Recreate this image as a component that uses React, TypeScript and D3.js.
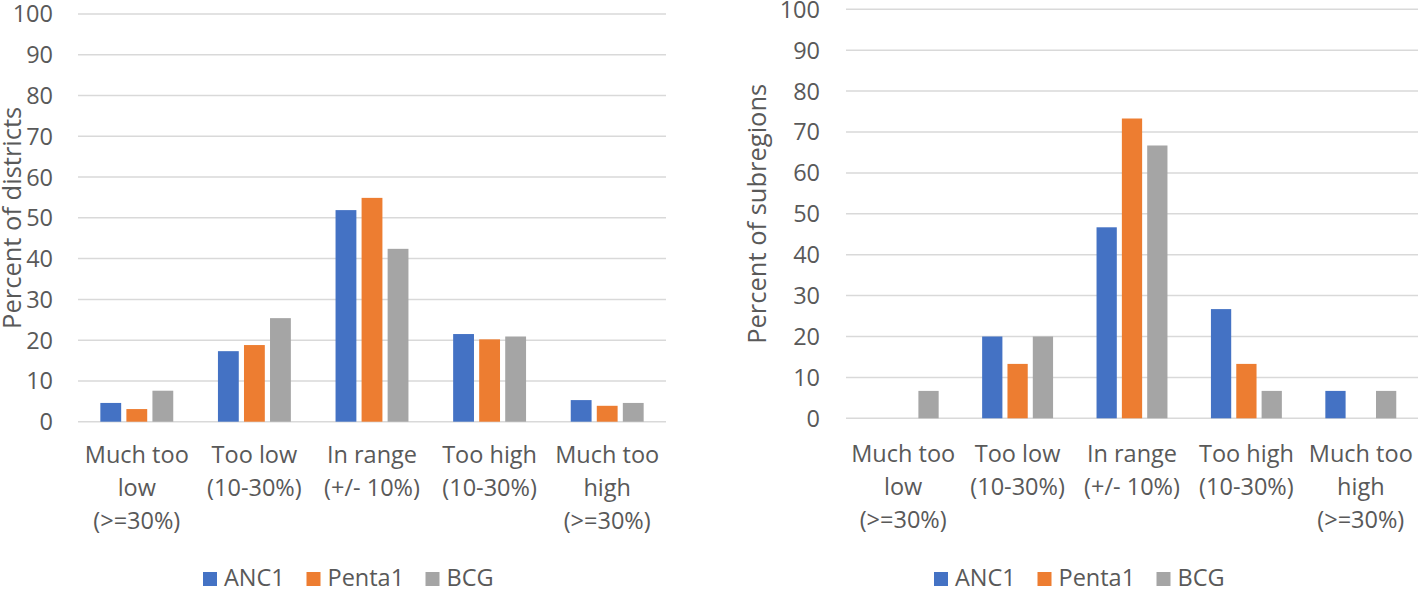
import React, { useLayoutEffect } from "react";
import * as d3 from "d3";

const categories = [
  ["Much too", "low", "(>=30%)"],
  ["Too low", "(10-30%)"],
  ["In range", "(+/- 10%)"],
  ["Too high", "(10-30%)"],
  ["Much too", "high", "(>=30%)"],
];
const seriesNames = ["ANC1", "Penta1", "BCG"];
const seriesColors = ["#4472C4", "#ED7D31", "#A5A5A5"];
const yTicks = [0, 10, 20, 30, 40, 50, 60, 70, 80, 90, 100];

// Left chart: percent of districts
const districtsANC1 = [4.6, 17.3, 51.9, 21.5, 5.3];
const districtsPenta1 = [3.1, 18.8, 54.9, 20.2, 3.9];
const districtsBCG = [7.6, 25.4, 42.4, 20.9, 4.6];

// Right chart: percent of subregions
const subregionsANC1 = [0, 20, 46.7, 26.7, 6.7];
const subregionsPenta1 = [0, 13.3, 73.3, 13.3, 0];
const subregionsBCG = [6.7, 20, 66.7, 6.7, 6.7];

const FONT = "'Open Sans', 'Noto Sans', sans-serif";
const TEXT = "#595959";
const GRID = "#d9d9d9";
const FS = 23.5;
const LEGEND_OFFSETS = [0, 103.5, 222.5];

type PanelProps = {
  x0: number;
  x1: number;
  y0: number;
  y1: number;
  tickX: number;
  titleX: number;
  title: string;
  labelY: number;
  legendX: number;
  data: number[][];
};

function Panel(p: PanelProps) {
  const y = d3.scaleLinear().domain([0, 100]).range([p.y0, p.y1]);
  const x = d3
    .scaleBand<number>()
    .domain(categories.map((_, i) => i))
    .range([p.x0, p.x1])
    .padding(0);
  const bw = x.bandwidth();
  const groupW = bw * 0.62;
  const xs = d3
    .scaleBand<number>()
    .domain(seriesNames.map((_, i) => i))
    .range([(bw - groupW) / 2, (bw + groupW) / 2])
    .paddingInner(0.2)
    .paddingOuter(0);

  return (
    <g>
      {yTicks.map((t) => (
        <g key={t}>
          <line x1={p.x0} x2={p.x1} y1={y(t)} y2={y(t)} stroke={GRID} strokeWidth={1.5} />
          <text
            x={p.tickX}
            y={y(t)}
            dy="0.36em"
            textAnchor="end"
            fontSize={FS}
            fill={TEXT}
            fontFamily={FONT}
          >
            {t}
          </text>
        </g>
      ))}
      {p.data.map((vals, si) =>
        vals.map((v, ci) =>
          v > 0 ? (
            <rect
              key={`${si}-${ci}`}
              x={(x(ci) as number) + (xs(si) as number)}
              y={y(v)}
              width={xs.bandwidth()}
              height={y(0) - y(v)}
              fill={seriesColors[si]}
            />
          ) : null
        )
      )}
      {categories.map((lines, ci) => (
        <text
          key={ci}
          x={(x(ci) as number) + bw / 2}
          y={p.labelY}
          textAnchor="middle"
          fontSize={FS}
          fill={TEXT}
          fontFamily={FONT}
        >
          {lines.map((l, li) => (
            <tspan key={li} x={(x(ci) as number) + bw / 2} dy={li === 0 ? 0 : 33}>
              {l}
            </tspan>
          ))}
        </text>
      ))}
      <text
        transform={`translate(${p.titleX},${(p.y0 + p.y1) / 2}) rotate(-90)`}
        textAnchor="middle"
        fontSize={25.5}
        fill={TEXT}
        fontFamily={FONT}
      >
        {p.title}
      </text>
      {seriesNames.map((n, i) => {
        const lx = p.legendX + LEGEND_OFFSETS[i];
        return (
          <g key={n}>
            <rect x={lx} y={572} width={14} height={14} fill={seriesColors[i]} />
            <text x={lx + 21} y={586} fontSize={FS} fill={TEXT} fontFamily={FONT}>
              {n}
            </text>
          </g>
        );
      })}
    </g>
  );
}

export default function App() {
  useLayoutEffect(() => {
    document.body.style.margin = "0";
  }, []);
  return (
    <svg width={1418} height={589} style={{ display: "block", background: "#fff" }}>
      <rect width={1418} height={589} fill="#fff" />
      <Panel
        x0={78}
        x1={666}
        y0={421.7}
        y1={14}
        tickX={53}
        titleX={21}
        title="Percent of districts"
        labelY={463}
        legendX={203}
        data={[districtsANC1, districtsPenta1, districtsBCG]}
      />
      <Panel
        x0={846}
        x1={1418}
        y0={418.3}
        y1={9.3}
        tickX={820}
        titleX={766}
        title="Percent of subregions"
        labelY={462}
        legendX={934}
        data={[subregionsANC1, subregionsPenta1, subregionsBCG]}
      />
    </svg>
  );
}
